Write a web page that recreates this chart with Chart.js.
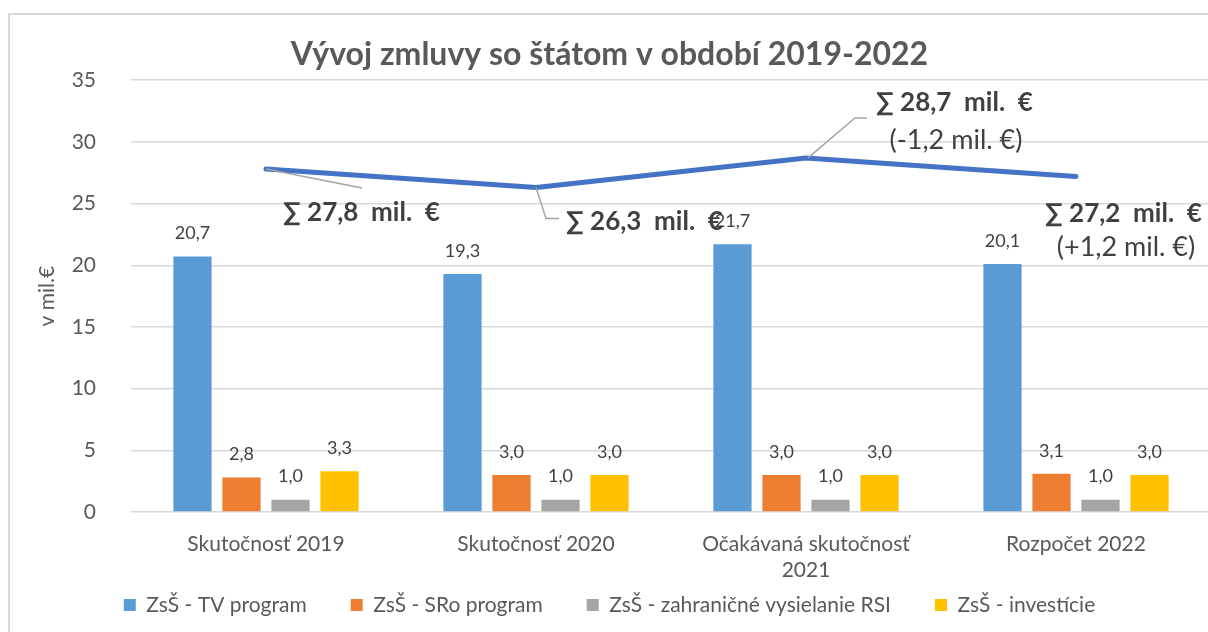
<!DOCTYPE html>
<html><head><meta charset="utf-8">
<script src="https://cdn.jsdelivr.net/npm/chart.js@4"></script>
<style>html,body{margin:0;padding:0;overflow:hidden;background:#fff}</style>
</head><body>
<canvas id="c" width="1215" height="632"></canvas>
<script>
const categories = ['Skutočnosť 2019', 'Skutočnosť 2020', ['Očakávaná skutočnosť', '2021'], 'Rozpočet 2022'];
const seriesNames = ['ZsŠ - TV program', 'ZsŠ - SRo program', 'ZsŠ - zahraničné vysielanie RSI', 'ZsŠ - investície'];
const tvProgram = [20.7, 19.3, 21.7, 20.1];
const sroProgram = [2.8, 3.0, 3.0, 3.1];
const rsi = [1.0, 1.0, 1.0, 1.0];
const investicie = [3.3, 3.0, 3.0, 3.0];
const totals = [27.8, 26.3, 28.7, 27.2];
const totalLabels = ['∑ 27,8  mil.  €', '∑ 26,3  mil.  €', '∑ 28,7  mil.  €', '∑ 27,2  mil.  €'];
const diffLabels = ['', '', '(-1,2 mil. €)', '(+1,2 mil. €)'];
const yTicks = [0, 5, 10, 15, 20, 25, 30, 35];
const colors = ['#5B9BD5', '#ED7D31', '#A5A5A5', '#FFC000'];

const FONT = 'Lato, "Open Sans", sans-serif';
const fmt = v => v.toFixed(1).replace('.', ',');

const bgPlugin = {
  id: 'bg',
  beforeDraw(chart) {
    const ctx = chart.ctx;
    ctx.save();
    ctx.fillStyle = '#fff';
    ctx.fillRect(0, 0, chart.width, chart.height);
    ctx.strokeStyle = '#d9d9d9';
    ctx.lineWidth = 2;
    ctx.beginPath();
    ctx.moveTo(9, chart.height);
    ctx.lineTo(9, 14);
    ctx.lineTo(chart.width, 14);
    ctx.stroke();
    ctx.restore();
  }
};

const labelPlugin = {
  id: 'labels',
  afterDatasetsDraw(chart) {
    const ctx = chart.ctx;
    ctx.save();
    ctx.font = '18px ' + FONT;
    ctx.fillStyle = '#404040';
    ctx.textAlign = 'center';
    ctx.textBaseline = 'middle';
    chart.data.datasets.forEach((ds, di) => {
      if (ds.type === 'line') return;
      const meta = chart.getDatasetMeta(di);
      meta.data.forEach((bar, i) => {
        ctx.fillText(fmt(ds.data[i]), bar.x, bar.y - 23);
      });
    });
    // sum annotations
    const lineIdx = chart.data.datasets.findIndex(d => d.type === 'line');
    const pts = chart.getDatasetMeta(lineIdx).data;
    ctx.strokeStyle = '#A5A5A5';
    ctx.lineWidth = 1.5;
    const leaders = [
      [[0, 0], [96, 19]],
      [[0, 0], [10, 31], [23, 31]],
      [[2, 0], [49, -40], [61, -40]],
      null
    ];
    const textPos = [[17, 44], [30, 34], [70, -55], [-31, 37]];
    const diffPos = [null, null, [150, -18], [50, 71]];
    pts.forEach((p, i) => {
      const L = leaders[i];
      if (L) {
        ctx.beginPath();
        L.forEach((o, k) => { if (k === 0) ctx.moveTo(p.x + o[0], p.y + o[1]); else ctx.lineTo(p.x + o[0], p.y + o[1]); });
        ctx.stroke();
      }
    });
    pts.forEach((p, i) => {
      const t = textPos[i];
      ctx.font = 'bold 26px ' + FONT;
      ctx.fillStyle = '#404040';
      ctx.textAlign = 'left';
      ctx.fillText(totalLabels[i], p.x + t[0], p.y + t[1]);
      if (diffLabels[i]) {
        ctx.font = '27px ' + FONT;
        ctx.textAlign = 'center';
        ctx.fillText(diffLabels[i], p.x + diffPos[i][0], p.y + diffPos[i][1]);
      }
    });
    ctx.restore();
  }
};

const barDatasets = [tvProgram, sroProgram, rsi, investicie].map((d, i) => ({
  type: 'bar', label: seriesNames[i], data: d, backgroundColor: colors[i],
  categoryPercentage: 0.726, barPercentage: 0.78, order: 2
}));

new Chart(document.getElementById('c'), {
  data: {
    labels: categories,
    datasets: [
      { type: 'line', label: 'Spolu', data: totals, borderColor: '#4472C4', borderWidth: 5,
        pointRadius: 0, borderCapStyle: 'round', borderJoinStyle: 'round', tension: 0, order: 0 },
      ...barDatasets
    ]
  },
  options: {
    responsive: false,
    animation: false,
    layout: { padding: { left: 8, right: 4, top: 0, bottom: 6.5 } },
    plugins: {
      title: {
        display: true, text: 'Vývoj zmluvy so štátom v období 2019-2022',
        color: '#595959', font: { family: FONT, size: 32, weight: 'bold' },
        padding: { top: 35.8, bottom: 6 }
      },
      legend: {
        position: 'bottom',
        labels: {
          filter: item => item.datasetIndex > 0,
          boxWidth: 12, boxHeight: 12, padding: 44, color: '#595959',
          font: { family: FONT, size: 21 }
        }
      },
      tooltip: { enabled: false }
    },
    scales: {
      x: {
        grid: { display: false, drawTicks: false },
        border: { display: false },
        ticks: { color: '#595959', font: { family: FONT, size: 21 }, padding: 20, maxRotation: 0, autoSkip: false },
        afterFit(s) { s.height = 38.5; s._computeLabelArea = () => undefined; }
      },
      y: {
        min: 0, max: 35,
        afterBuildTicks(s) { s.ticks = yTicks.map(v => ({ value: v })); },
        grid: { color: '#d9d9d9', lineWidth: 1.5, drawTicks: false },
        border: { display: false },
        ticks: { color: '#595959', font: { family: FONT, size: 21 }, padding: 35 },
        title: { display: true, text: 'v mil.€', color: '#595959', font: { family: FONT, size: 21 }, padding: { top: 27, bottom: 0 } },
        afterFit(s) { s.width = 123; }
      }
    }
  },
  plugins: [bgPlugin, labelPlugin]
});
</script>
</body></html>
